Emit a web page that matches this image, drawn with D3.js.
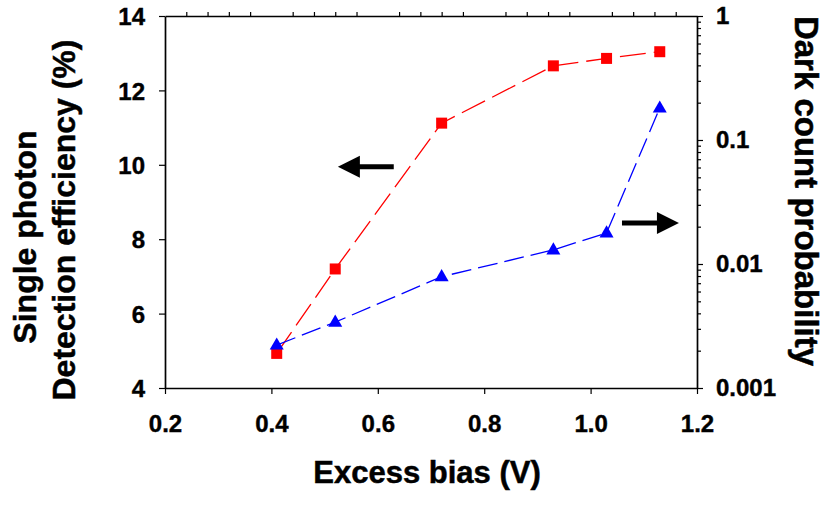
<!DOCTYPE html>
<html>
<head>
<meta charset="utf-8">
<script src="https://cdn.jsdelivr.net/npm/d3@7"></script>
<style>
  body { margin: 0; background: #fff; }
  text { font-family: "Liberation Sans", Arial, sans-serif; font-weight: bold; }
</style>
</head>
<body>
<div id="chart"></div>
<script>
// data
var bias = [0.41, 0.52, 0.72, 0.93, 1.03, 1.13];
var efficiency = [4.93, 7.2, 11.12, 12.66, 12.86, 13.04];
var darkCount = [0.00222, 0.0034, 0.0079, 0.013, 0.0178, 0.181];

var xTicks = [0.2, 0.4, 0.6, 0.8, 1.0, 1.2];
var xMinorTicks = [0.24, 0.28, 0.32, 0.36, 0.44, 0.48, 0.52, 0.56, 0.64, 0.68, 0.72, 0.76,
                   0.84, 0.88, 0.92, 0.96, 1.04, 1.08, 1.12, 1.16];
var yLeftTicks = [4, 6, 8, 10, 12, 14];
var yRightTicks = [0.001, 0.01, 0.1, 1];
var yRightLabels = ["0.001", "0.01", "0.1", "1"];

var W = 827, H = 508;
var margin = { top: 16, right: 130, bottom: 120, left: 165 };
var width = W - margin.left - margin.right;   // 532
var height = H - margin.top - margin.bottom;  // 372

var svg = d3.select("#chart")
  .append("svg")
    .attr("width", W)
    .attr("height", H)
  .append("g")
    .attr("transform", "translate(" + margin.left + "," + margin.top + ")");

var x = d3.scaleLinear().domain([0.2, 1.2]).range([0, width]);
var yL = d3.scaleLinear().domain([4, 14]).range([height, 0]);
var yR = d3.scaleLog().domain([0.001, 1]).range([height, 0]);

// minor log ticks for the right axis
var rightMinor = [];
[0.001, 0.01, 0.1].forEach(function(d) {
  for (var k = 2; k <= 9; k++) rightMinor.push(d * k);
});

function styleAxis(g) {
  g.selectAll("path.domain").attr("stroke", "#000").attr("stroke-width", 1.7);
  g.selectAll(".tick line").attr("stroke", "#000").attr("stroke-width", 1.2);
  g.selectAll(".tick text").attr("fill", "#000")
    .style("font-size", "24px")
    .attr("stroke", "#000").attr("stroke-width", 0.4);
}

// bottom axis
svg.append("g")
  .attr("transform", "translate(0," + height + ")")
  .call(d3.axisBottom(x).tickValues(xTicks).tickFormat(d3.format(".1f"))
    .tickSize(6).tickSizeOuter(0).tickPadding(21))
  .call(styleAxis);

// top axis (minor ticks only)
svg.append("g")
  .call(d3.axisTop(x).tickValues(xMinorTicks).tickFormat("")
    .tickSize(4).tickSizeOuter(0))
  .call(styleAxis);

// left axis
svg.append("g")
  .call(d3.axisLeft(yL).tickValues(yLeftTicks).tickFormat(d3.format("d"))
    .tickSize(6).tickSizeOuter(0).tickPadding(14))
  .call(styleAxis)
  .selectAll(".tick text").attr("dy", "0.36em");

// right axis, major and minor
var gR = svg.append("g")
  .attr("transform", "translate(" + width + ",0)");
gR.call(d3.axisRight(yR).tickValues(yRightTicks)
    .tickFormat(function(d, i) { return yRightLabels[i]; })
    .tickSize(6).tickSizeOuter(0).tickPadding(13))
  .call(styleAxis);
gR.append("g")
  .call(d3.axisRight(yR).tickValues(rightMinor).tickFormat("").tickSize(4).tickSizeOuter(0))
  .call(styleAxis)
  .select("path.domain").remove();

// efficiency series (red, left axis)
var redLine = d3.line()
  .x(function(d, i) { return x(bias[i]); })
  .y(function(d) { return yL(d); });
svg.append("path")
  .datum(efficiency)
  .attr("fill", "none")
  .attr("stroke", "#ff0000")
  .attr("stroke-width", 1.3)
  .attr("stroke-dasharray", "26,8")
  .attr("d", redLine);
svg.selectAll("rect.sde")
  .data(efficiency)
  .enter().append("rect")
    .attr("class", "sde")
    .attr("x", function(d, i) { return x(bias[i]) - 5.5; })
    .attr("y", function(d) { return yL(d) - 5.5; })
    .attr("width", 11)
    .attr("height", 11)
    .attr("fill", "#ff0000");

// dark count series (blue, right axis)
var blueLine = d3.line()
  .x(function(d, i) { return x(bias[i]); })
  .y(function(d) { return yR(d); });
svg.append("path")
  .datum(darkCount)
  .attr("fill", "none")
  .attr("stroke", "#0000ff")
  .attr("stroke-width", 1.3)
  .attr("stroke-dasharray", "20,7")
  .attr("d", blueLine);
var tri = d3.symbol().type(d3.symbolTriangle).size(85);
svg.selectAll("path.dcp")
  .data(darkCount)
  .enter().append("path")
    .attr("class", "dcp")
    .attr("transform", function(d, i) { return "translate(" + x(bias[i]) + "," + (yR(d) + 0.5) + ")"; })
    .attr("d", tri)
    .attr("fill", "#0000ff");

// arrows pointing to the axes
function arrow(x1, x2, yy) {
  var dir = x2 > x1 ? 1 : -1;
  var headLen = 22, headHalf = 11;
  svg.append("line")
    .attr("x1", x1).attr("y1", yy)
    .attr("x2", x2 - dir * headLen + dir * 1).attr("y2", yy)
    .attr("stroke", "#000").attr("stroke-width", 5);
  svg.append("path")
    .attr("d", "M" + x2 + "," + yy +
      "L" + (x2 - dir * headLen) + "," + (yy - headHalf) +
      "L" + (x2 - dir * headLen) + "," + (yy + headHalf) + "Z")
    .attr("fill", "#000");
}
arrow(x(0.63), x(0.525), yL(9.95));
arrow(x(1.059), x(1.166), yR(0.0214));

// axis titles
function title(tx, ty, rot, size, label) {
  svg.append("text")
    .attr("transform", "translate(" + tx + "," + ty + ")" + (rot ? " rotate(" + rot + ")" : ""))
    .attr("text-anchor", "middle")
    .attr("stroke", "#000").attr("stroke-width", 0.5)
    .style("font-size", size + "px")
    .text(label);
}
title(427 - margin.left, 483 - margin.top, 0, 31, "Excess bias (V)");
title(36 - margin.left, 237 - margin.top, -90, 32, "Single photon");
title(75 - margin.left, 220 - margin.top, -90, 32, "Detection efficiency (%)");
title(795 - margin.left, 191 - margin.top, 90, 33, "Dark count probability");
</script>
</body>
</html>
